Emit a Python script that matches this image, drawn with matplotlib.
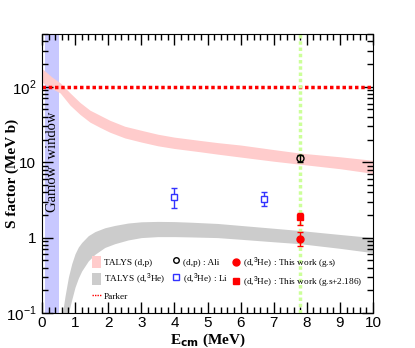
import numpy as np
import matplotlib
matplotlib.use("Agg")
import matplotlib.pyplot as plt
from matplotlib.ticker import FixedLocator, MultipleLocator, LogLocator, NullFormatter
from matplotlib.patches import Patch
from matplotlib.lines import Line2D

plt.rcParams['font.family'] = ['Liberation Sans', 'DejaVu Sans']
plt.rcParams['mathtext.fontset'] = 'custom'
plt.rcParams['mathtext.rm'] = 'Liberation Sans'

# TALYS (d,p) band
dp_x = [0.0, 0.3, 0.55, 0.85, 1.15, 1.45, 1.75, 2.05, 2.5, 3.0, 3.5, 4.0, 4.75, 5.3, 6.0, 7.0, 7.8, 9.0, 10.0]
dp_hi = [175, 135, 113, 83, 62, 49, 42, 36, 30, 26.5, 23.5, 21.5, 19.5, 18.2, 16.9, 14.7, 13.2, 11.8, 10.6]
dp_lo = [115, 95, 83, 57, 43, 34, 29, 25, 21, 18.5, 16.5, 15.2, 13.8, 12.8, 11.7, 10.3, 9.4, 8.2, 7.1]

# TALYS (d,3He) band
dhe_x = [0.62, 0.7, 0.8, 0.9, 1.0, 1.1, 1.2, 1.4, 1.6, 1.9, 2.2, 2.6, 3.0, 3.5, 4.0, 4.5, 5.3, 6.0, 7.0, 7.8, 9.0, 10.0]
dhe_hi = [0.1, 0.17, 0.3, 0.45, 0.61, 0.75, 0.86, 1.06, 1.2, 1.35, 1.45, 1.56, 1.62, 1.64, 1.63, 1.6, 1.54, 1.45, 1.33, 1.24, 1.1, 1.0]
dhe_lo = [0.03, 0.05, 0.1, 0.15, 0.22, 0.29, 0.36, 0.49, 0.6, 0.74, 0.83, 0.93, 1.0, 1.03, 1.03, 1.02, 1.0, 0.95, 0.88, 0.83, 0.72, 0.63]

# measured points
ali_x, ali_y, ali_lo, ali_hi = [7.8], [11.3], [10.0], [12.6]
li_x = [4.0, 6.7]
li_y = [3.5, 3.3]
li_lo = [2.45, 2.6]
li_hi = [4.5, 4.0]
gs_x, gs_y, gs_lo, gs_hi = [7.8], [0.97], [0.78], [1.17]
ex_x, ex_y, ex_lo, ex_hi = [7.8], [1.85], [1.45], [2.15]

parker_s = 100
gamow = (0.1, 0.52)
e_line = 7.8

fig = plt.figure(figsize=(4.15, 3.48), dpi=100)
ax = fig.add_axes([0.101, 0.1006, 0.798, 0.8014])

ax.axvspan(gamow[0], gamow[1], color='#c8c8ff', lw=0, zorder=0)
ax.fill_between(dp_x, dp_lo, dp_hi, color='#ffcccc', lw=0, zorder=1)
ax.fill_between(dhe_x, dhe_lo, dhe_hi, color='#cccccc', lw=0, zorder=1)
ax.axhline(parker_s, color='red', ls=(0, (1, 0.8)), lw=2.5, zorder=2)
ax.axvline(e_line, color='#ccff99', ls=(0, (1, 0.8)), lw=2.5, zorder=2)


def err(y, lo, hi):
    y = np.array(y)
    return [y - np.array(lo), np.array(hi) - y]


ax.errorbar(ali_x, ali_y, yerr=err(ali_y, ali_lo, ali_hi), fmt='o', mfc='none', mec='black',
            ecolor='black', ms=5, mew=1, capsize=2, elinewidth=1, zorder=4)
ax.errorbar(li_x, li_y, yerr=err(li_y, li_lo, li_hi), fmt='s', mfc='white', mec='#3333ff',
            ecolor='#3333ff', ms=5, mew=1, capsize=2, elinewidth=1, zorder=4)
ax.errorbar(gs_x, gs_y, yerr=err(gs_y, gs_lo, gs_hi), fmt='o', color='red',
            ms=5, capsize=2, elinewidth=1, zorder=4)
ax.errorbar(ex_x, ex_y, yerr=err(ex_y, ex_lo, ex_hi), fmt='s', color='red',
            ms=5, capsize=2, elinewidth=1, zorder=4)

ax.set_yscale('log')
ax.set_xlim(0, 10)
ax.set_ylim(0.1, 500)

ax.xaxis.set_major_locator(MultipleLocator(1))
ax.xaxis.set_minor_locator(MultipleLocator(0.2))
ax.yaxis.set_major_locator(FixedLocator([0.1, 1, 10, 100]))
ax.yaxis.set_minor_locator(LogLocator(base=10, subs=np.arange(2, 10)))
ax.yaxis.set_minor_formatter(NullFormatter())
ax.set_yticklabels([r'$10^{-1}$', '1', '10', r'$10^{2}$'])
ax.tick_params(which='both', direction='in', top=True, right=True, labelsize=11)
ax.tick_params(which='major', length=8, width=1)
ax.tick_params(which='minor', length=4, width=1)
ax.tick_params(axis='x', pad=2)
ax.tick_params(axis='y', pad=4)

ax.text(0.32, 10, 'Gamow  window', rotation=90, ha='center', va='center',
        family='Liberation Serif', fontsize=10.5, zorder=3)

ax.set_xlabel(r'E$_{\mathbf{cm}}$ (MeV)', family='Liberation Serif', fontweight='bold', fontsize=11)
ax.xaxis.set_label_coords(0.5, -0.068)
ax.set_ylabel('S factor (MeV b)', family='Liberation Serif', fontweight='bold', fontsize=11)
ax.yaxis.set_label_coords(-0.068, 0.5)

# legend: three columns placed separately
col1 = ([Patch(facecolor='#ffcccc', edgecolor='none'),
         Patch(facecolor='#cccccc', edgecolor='none'),
         Line2D([], [], color='red', ls=(0, (1, 0.8)), lw=1)],
        ['TALYS (d,p)', r'TALYS (d,$^{3}$He)', 'Parker'])
col2 = ([Line2D([], [], marker='o', ls='none', mfc='none', mec='black', ms=4),
         Line2D([], [], marker='s', ls='none', mfc='none', mec='#3333ff', ms=4)],
        ['(d,p) : Ali', r'(d,$^{3}$He) : Li'])
col3 = ([Line2D([], [], marker='o', ls='none', color='red', ms=5),
         Line2D([], [], marker='s', ls='none', color='red', ms=4.5)],
        [r'(d,$^{3}$He) : This work (g.s)', r'(d,$^{3}$He) : This work (g.s+2.186)'])

leg_kw = dict(loc='upper left', frameon=False, prop={'family': 'Liberation Serif', 'size': 6.7},
              handlelength=1.0, handleheight=1.6, handletextpad=0.3,
              labelspacing=0.4, borderpad=0, borderaxespad=0)
legs = []
for (h, l), x0 in zip([col1, col2, col3], [0.151, 0.39, 0.571]):
    legs.append(ax.legend(h, l, bbox_to_anchor=(x0, 0.205), **leg_kw))
for lg in legs[:-1]:
    ax.add_artist(lg)

fig.savefig('out.png', dpi=100)
